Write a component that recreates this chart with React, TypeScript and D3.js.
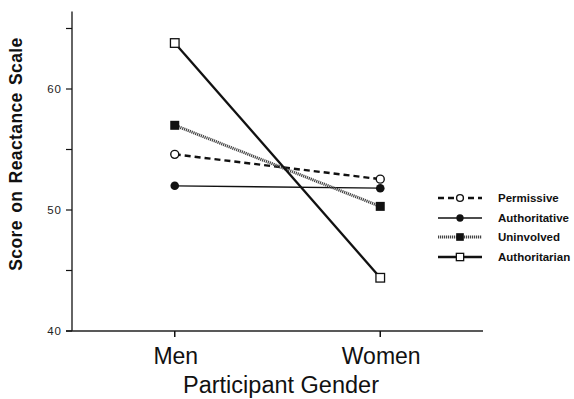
import React from "react";
import * as d3 from "d3";

const genders = ["Men", "Women"];
const seriesNames = ["Permissive", "Authoritative", "Uninvolved", "Authoritarian"];
const permissive = [54.6, 52.55];
const authoritative = [52.0, 51.8];
const uninvolved = [57.0, 50.3];
const authoritarian = [63.8, 44.4];
const yTicks = [40, 45, 50, 55, 60, 65];
const yLabelTicks = [40, 50, 60];

type Style = { dash: string; width: number; color: string; marker: string };
const styles: Style[] = [
  { dash: "6,4", width: 2.4, color: "#111", marker: "openCircle" },
  { dash: "", width: 1.3, color: "#111", marker: "filledCircle" },
  { dash: "1.2,0.8", width: 3, color: "#444", marker: "filledSquare" },
  { dash: "", width: 2.3, color: "#111", marker: "openSquare" },
];

function Marker({ kind, x, y, s = 1 }: { kind: string; x: number; y: number; s?: number }) {
  if (kind === "openCircle")
    return <circle cx={x} cy={y} r={4 * s} fill="#fff" stroke="#111" strokeWidth={1.4} />;
  if (kind === "filledCircle") return <circle cx={x} cy={y} r={4.3 * s} fill="#111" />;
  if (kind === "filledSquare")
    return <rect x={x - 4.5 * s} y={y - 4.5 * s} width={9 * s} height={9 * s} fill="#111" />;
  return (
    <rect x={x - 4.3 * s} y={y - 4.3 * s} width={8.6 * s} height={8.6 * s} fill="#fff" stroke="#111" strokeWidth={1.3} />
  );
}

export default function App() {
  const data = [permissive, authoritative, uninvolved, authoritarian];
  const x = d3.scalePoint<string>().domain(genders).range([72, 483]).padding(0.5);
  const y = d3.scaleLinear().domain([40, 60]).range([331, 89]);
  const line = d3
    .line<number>()
    .x((_, i) => x(genders[i]) as number)
    .y((d) => y(d));
  const axisTop = y(66.4);
  const legendYs = [198, 218, 237, 257];

  return (
    <svg
      width={574}
      height={399}
      style={{ position: "absolute", left: 0, top: 0, background: "#fff" }}
      fontFamily="'Liberation Sans', Arial, sans-serif"
    >
      <rect width={574} height={399} fill="#fff" />
      {/* axes */}
      <line x1={72} x2={72} y1={axisTop} y2={y(40)} stroke="#111" strokeWidth={1.3} />
      <line x1={66} x2={483} y1={y(40)} y2={y(40)} stroke="#222" strokeWidth={1.5} />
      {yTicks.map((t) => (
        <line key={t} x1={66} x2={72} y1={y(t)} y2={y(t)} stroke="#111" strokeWidth={1.2} />
      ))}
      {yLabelTicks.map((t) => (
        <text key={t} x={62} y={y(t)} dy="0.35em" textAnchor="end" fontSize={11.5} letterSpacing={1} fill="#222">
          {t}
        </text>
      ))}
      {genders.map((g) => (
        <g key={g}>
          <line x1={x(g)} x2={x(g)} y1={y(40)} y2={y(40) + 6} stroke="#111" strokeWidth={1.5} />
          <text x={(x(g) as number) + 1} y={364} textAnchor="middle" fontSize={23} fill="#111">
            {g}
          </text>
        </g>
      ))}
      <text x={281} y={393} textAnchor="middle" fontSize={23.5} fill="#111">
        Participant Gender
      </text>
      <text
        transform={`translate(22,154) rotate(-90)`}
        textAnchor="middle"
        fontSize={17.5}
        fontWeight="bold"
        letterSpacing={0.4}
        wordSpacing={2}
        fill="#111"
      >
        Score on Reactance Scale
      </text>
      {/* lines */}
      {data.map((d, i) => (
        <path
          key={seriesNames[i]}
          d={line(d) as string}
          fill="none"
          stroke={styles[i].color}
          strokeWidth={styles[i].width}
          strokeDasharray={styles[i].dash}
        />
      ))}
      {data.map((d, i) =>
        d.map((v, j) => <Marker key={`${i}-${j}`} kind={styles[i].marker} x={x(genders[j]) as number} y={y(v)} />)
      )}
      {/* legend */}
      {seriesNames.map((n, i) => (
        <g key={n}>
          <line
            x1={438}
            x2={482}
            y1={legendYs[i]}
            y2={legendYs[i]}
            stroke={styles[i].color}
            strokeWidth={styles[i].width}
            strokeDasharray={styles[i].dash}
          />
          <Marker kind={styles[i].marker} x={460} y={legendYs[i]} s={0.85} />
          <text x={498} y={legendYs[i]} dy="0.35em" fontSize={11.5} fontWeight="bold" fill="#111">
            {n}
          </text>
        </g>
      ))}
    </svg>
  );
}
